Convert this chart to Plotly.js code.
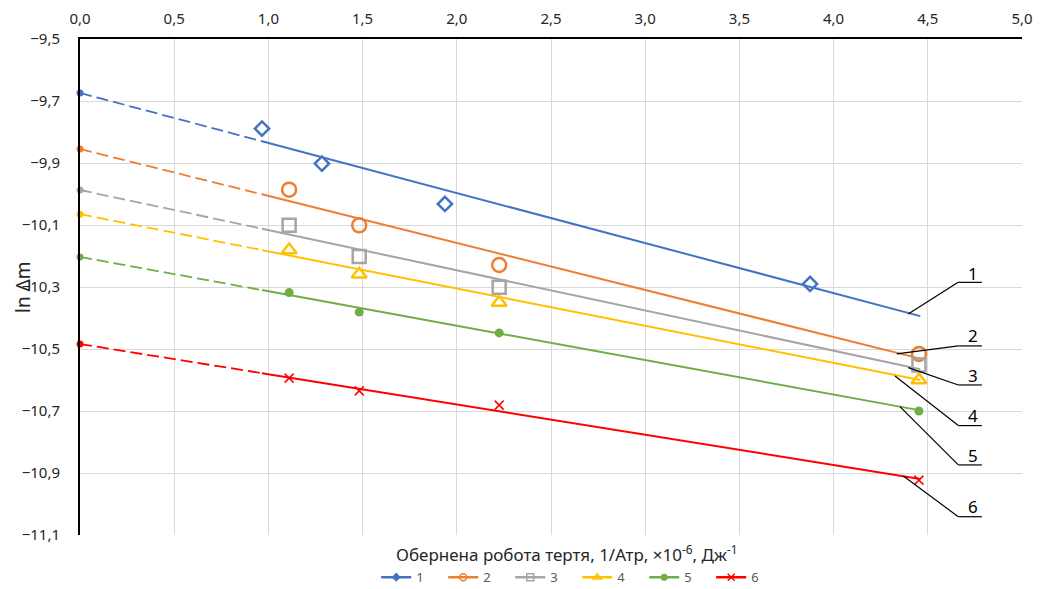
<!DOCTYPE html>
<html>
<head>
<meta charset="utf-8">
<script src="https://cdn.plot.ly/plotly-3.0.1.min.js"></script>
<style>html,body{margin:0;padding:0;background:#fff;}#chart{width:1040px;height:589px;}</style>
</head>
<body>
<div id="chart"></div>
<script>
// ---- data ----
const seriesNames = ['1', '2', '3', '4', '5', '6'];
const x1 = [0.966, 1.284, 1.937, 3.875];
const xOther = [1.110, 1.482, 2.225, 4.453];
const s1 = [-9.789, -9.902, -10.032, -10.290];
const s2 = [-9.986, -10.101, -10.229, -10.516];
const s3 = [-10.101, -10.202, -10.301, -10.552];
const s4 = [-10.181, -10.259, -10.350, -10.600];
const s5 = [-10.318, -10.381, -10.448, -10.700];
const s6 = [-10.594, -10.635, -10.681, -10.923];

// trend lines: value at x = 0 (intercept), at the end of the dashed part, and at the end of the line
const trendX = [0, 0.966, 4.46];
const trend1 = [-9.674, -9.830, -10.394];
const trend2 = [-9.855, -10.001, -10.531];
const trend3 = [-9.987, -10.112, -10.565];
const trend4 = [-10.065, -10.181, -10.600];
const trend5 = [-10.203, -10.310, -10.698];
const trend6 = [-10.484, -10.578, -10.919];

const xTicks = [0, 0.5, 1, 1.5, 2, 2.5, 3, 3.5, 4, 4.5, 5];
const yTicks = [-11.1, -10.9, -10.7, -10.5, -10.3, -10.1, -9.9, -9.7, -9.5];

const colors = ['#4472C4', '#ED7D31', '#A5A5A5', '#FFC000', '#70AD47', '#FF0000'];
const pts = [[x1, s1], [xOther, s2], [xOther, s3], [xOther, s4], [xOther, s5], [xOther, s6]];
const trends = [trend1, trend2, trend3, trend4, trend5, trend6];

const markerStyles = [
  {symbol: 'diamond-open', size: 11, line: {width: 2.5}},
  {symbol: 'circle-open', size: 14, line: {width: 2.5}},
  {symbol: 'square-open', size: 13, line: {width: 2.5}},
  {symbol: 'triangle-up-open', size: 13, line: {width: 2.5}},
  {symbol: 'circle', size: 9, line: {width: 0}},
  {symbol: 'x-thin-open', size: 9, line: {width: 1.5}}
];
const legendMarkers = [
  {symbol: 'diamond', size: 7},
  {symbol: 'circle-open', size: 7, line: {width: 1.5}},
  {symbol: 'square-open', size: 7, line: {width: 1.5}},
  {symbol: 'triangle-up-open', size: 7, line: {width: 1.5}},
  {symbol: 'circle', size: 7},
  {symbol: 'x-thin-open', size: 7, line: {width: 1.5}}
];

const traces = [];
for (let i = 0; i < 6; i++) {
  const c = colors[i];
  const tr = trends[i];
  traces.push({
    x: trendX.slice(0, 2), y: tr.slice(0, 2), mode: 'lines', showlegend: false,
    line: {color: c, width: 1.8, dash: '12px,5px'}, hoverinfo: 'skip'
  });
  traces.push({
    x: trendX.slice(1, 3), y: tr.slice(1, 3), mode: 'lines', showlegend: false,
    line: {color: c, width: 2}, hoverinfo: 'skip'
  });
  traces.push({
    x: trendX.slice(0, 1), y: tr.slice(0, 1), mode: 'markers', showlegend: false, cliponaxis: false,
    marker: {color: c, size: 7, symbol: 'circle'}
  });
  const ms = Object.assign({}, markerStyles[i]);
  ms.color = c;
  ms.line = Object.assign({color: c}, ms.line);
  traces.push({
    x: pts[i][0], y: pts[i][1], mode: 'markers', showlegend: false, cliponaxis: false,
    marker: ms
  });
}
for (let i = 0; i < 6; i++) {
  const lm = Object.assign({color: colors[i]}, legendMarkers[i]);
  lm.line = Object.assign({color: colors[i]}, lm.line || {});
  traces.push({
    x: [null], y: [null], mode: 'lines+markers', name: seriesNames[i], showlegend: true,
    line: {color: colors[i], width: 2.5}, marker: lm
  });
}

const leaders = [
  {from: [4.396, -10.387], knee: [4.661, -10.285], label: -10.256},
  {from: [4.335, -10.516], knee: [4.662, -10.490], label: -10.458},
  {from: [4.396, -10.560], knee: [4.662, -10.616], label: -10.584},
  {from: [4.326, -10.587], knee: [4.662, -10.747], label: -10.713},
  {from: [4.352, -10.686], knee: [4.662, -10.874], label: -10.842},
  {from: [4.370, -10.910], knee: [4.662, -11.041], label: -11.009}
];
const shapes = [];
const annotations = [];
leaders.forEach((l, i) => {
  shapes.push({type: 'line', xref: 'x', yref: 'y', x0: l.from[0], y0: l.from[1], x1: l.knee[0], y1: l.knee[1],
    line: {color: '#000', width: 1.2}});
  shapes.push({type: 'line', xref: 'x', yref: 'y', x0: l.knee[0], y0: l.knee[1], x1: 4.787, y1: l.knee[1],
    line: {color: '#000', width: 1.2}});
  annotations.push({xref: 'x', yref: 'y', x: 4.738, y: l.label, text: seriesNames[i], showarrow: false,
    font: {size: 17, color: '#000', family: 'Noto Sans, sans-serif'}, xanchor: 'center', yanchor: 'middle'});
});
annotations.push({
  xref: 'paper', yref: 'paper', x: 0.517, y: 0, yshift: -18, xanchor: 'center', yanchor: 'middle',
  text: 'Обернена робота тертя, 1/Атр, ×10<sup>-6</sup>, Дж<sup>-1</sup>', showarrow: false,
  font: {size: 17, color: '#262626', family: 'Noto Sans, sans-serif'}
});
annotations.push({
  xref: 'paper', yref: 'paper', x: 0, xshift: -57, y: 0.5, xanchor: 'center', yanchor: 'middle',
  textangle: -90, text: 'ln Δm', showarrow: false,
  font: {size: 19, color: '#262626', family: 'Noto Sans, sans-serif'}
});

const layout = {
  width: 1040, height: 589,
  margin: {l: 80, r: 18, t: 39, b: 54, autoexpand: false},
  paper_bgcolor: '#fff', plot_bgcolor: '#fff',
  separators: ', ',
  font: {family: 'Noto Sans, sans-serif', size: 13, color: '#262626'},
  showlegend: true,
  legend: {orientation: 'h', xref: 'container', x: 0.555, xanchor: 'center', yref: 'container', y: 0.02, yanchor: 'middle',
    font: {size: 13, color: '#595959'}, entrywidth: 22, entrywidthmode: 'pixels', bgcolor: 'rgba(0,0,0,0)'},
  xaxis: {
    side: 'top', range: [0, 5], tickvals: xTicks, tickformat: '.1f', showgrid: true, gridcolor: '#d9d9d9', gridwidth: 1,
    zeroline: false, showline: true, linecolor: '#000', linewidth: 2, ticks: '', tickfont: {size: 15, color: '#262626'},
    ticklabelstandoff: 7, automargin: false, fixedrange: true
  },
  yaxis: {
    range: [-11.1, -9.5], tickvals: yTicks, tickformat: '.1f', showgrid: true, gridcolor: '#d9d9d9', gridwidth: 1,
    zeroline: false, showline: true, linecolor: '#000', linewidth: 2, ticks: '', tickfont: {size: 15, color: '#262626'},
    ticklabelstandoff: 15, automargin: false, fixedrange: true
  },
  shapes: shapes,
  annotations: annotations
};

Plotly.newPlot('chart', traces, layout, {staticPlot: true, displayModeBar: false});
</script>
</body>
</html>
